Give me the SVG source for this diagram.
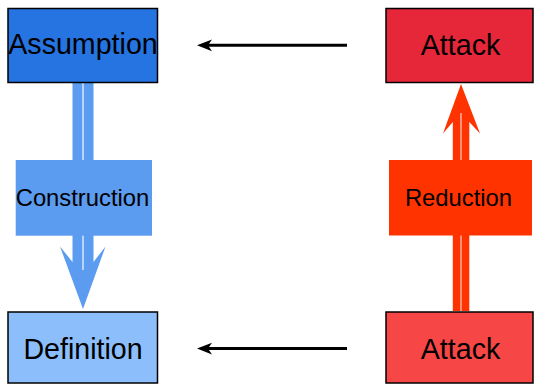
<svg xmlns="http://www.w3.org/2000/svg" width="534" height="385" viewBox="0 0 534 385">
<style>
.box{stroke:#000;stroke-width:1.5}
.t{font-family:"Liberation Sans",Arial,sans-serif;fill:#000;text-anchor:middle}
.big{font-size:28.6px}
.mid{font-size:23.8px}
.blk{stroke:#000;stroke-width:3;fill:none}
</style>
<rect width="534" height="385" fill="#fff"/>
<g id="connectors">
  <g id="construction-arrow">
    <rect x="72.5" y="82" width="21" height="188" fill="#5B9BF0"/>
    <polygon points="60,246.5 72.5,262 93.5,262 105.5,246.5 83,309" fill="#5B9BF0"/>
    <line x1="83" y1="82" x2="83" y2="270" stroke="#D8E7FC" stroke-width="1.5"/>
  </g>
  <g id="reduction-arrow">
    <rect x="452.8" y="118" width="16.5" height="193" fill="#FF3300"/>
    <polygon points="461,84 480,133.5 469.3,122 452.8,122 443,133.5" fill="#FF3300"/>
    <line x1="461" y1="113" x2="461" y2="311" stroke="#FFB3A3" stroke-width="1.5"/>
  </g>
  <g id="top-arrow">
    <line class="blk" x1="347" y1="45.3" x2="206" y2="45.3"/>
    <polygon points="197,45.3 212,39.5 208,45.3 212,51.2" fill="#000"/>
  </g>
  <g id="bottom-arrow">
    <line class="blk" x1="347" y1="348.5" x2="206" y2="348.5"/>
    <polygon points="197,348.5 212,342.7 208,348.5 212,354.4" fill="#000"/>
  </g>
</g>
<g id="construction">
  <rect x="15.7" y="160" width="136.3" height="75.7" fill="#5B9BF0"/>
  <text class="t mid" x="82.5" y="206">Construction</text>
</g>
<g id="reduction">
  <rect x="389" y="160" width="143" height="75.5" fill="#FF3300"/>
  <text class="t mid" x="458.5" y="205.5">Reduction</text>
</g>
<g id="assumption">
  <rect class="box" x="8" y="8.5" width="149.5" height="74" fill="#2673E2"/>
  <text class="t big" x="83" y="53.5">Assumption</text>
</g>
<g id="attack-top">
  <rect class="box" x="386" y="8.5" width="147" height="74" fill="#E62739"/>
  <text class="t big" x="460.5" y="55.3">Attack</text>
</g>
<g id="definition">
  <rect class="box" x="8" y="312" width="149.5" height="71" fill="#8DBEFC"/>
  <text class="t big" x="83" y="358.5">Definition</text>
</g>
<g id="attack-bottom">
  <rect class="box" x="386" y="312" width="147" height="71" fill="#F64646"/>
  <text class="t big" x="460.5" y="358.5">Attack</text>
</g>
</svg>
